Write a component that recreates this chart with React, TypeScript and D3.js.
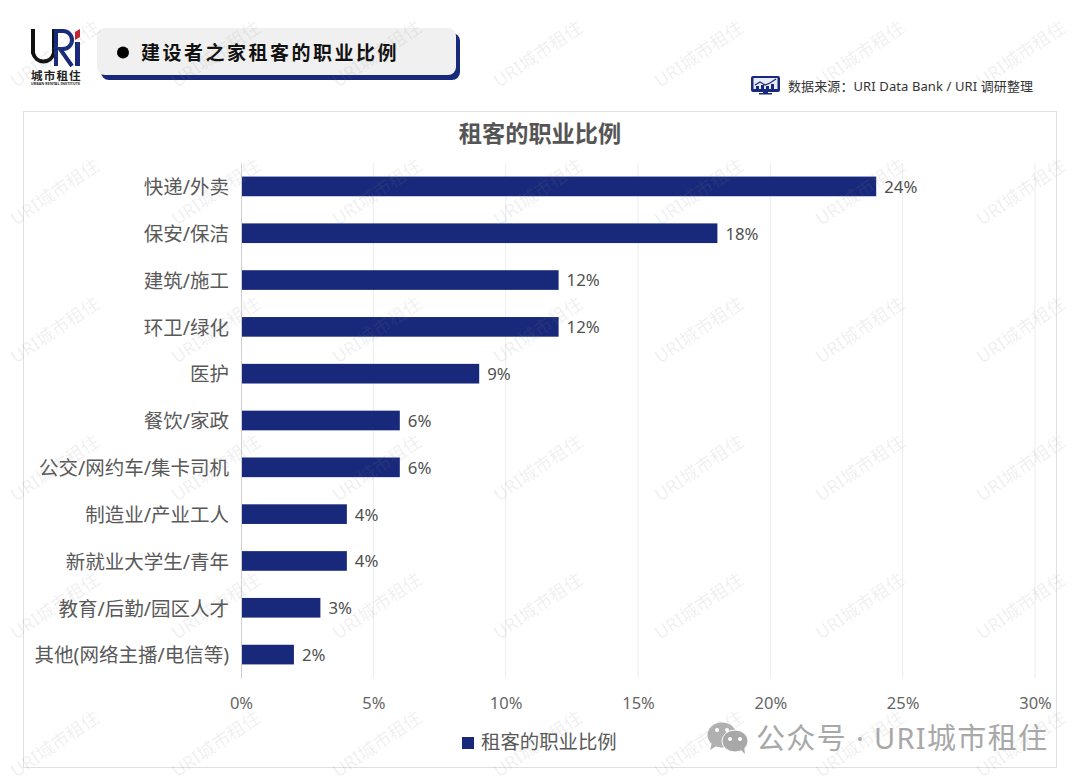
import * as d3 from "d3";
import { useEffect, useRef } from "react";

const categories = [
  "快递/外卖",
  "保安/保洁",
  "建筑/施工",
  "环卫/绿化",
  "医护",
  "餐饮/家政",
  "公交/网约车/集卡司机",
  "制造业/产业工人",
  "新就业大学生/青年",
  "教育/后勤/园区人才",
  "其他(网络主播/电信等)",
];
const shares = [24, 18, 12, 12, 9, 6, 6, 4, 4, 3, 2];
const xTicks = [0, 5, 10, 15, 20, 25, 30];

const seriesName = "租客的职业比例";
const headerTitle = "建设者之家租客的职业比例";
const sourceText = "数据来源\uFF1AURI Data Bank / URI 调研整理";
const watermarkText = "URI城市租住";
const wechatText = "公众号 · URI城市租住";

const FONT = '"Noto Sans", "Noto Sans CJK SC", sans-serif';
const NAVY = "#18297b";

export default function App() {
  const ref = useRef<SVGSVGElement>(null);

  useEffect(() => {
    const svg = d3.select(ref.current);
    svg.selectAll("*").remove();
    svg.attr("font-family", FONT);

    const x = d3.scaleLinear().domain([0, 30]).range([241, 1035]);
    const y = d3
      .scaleBand()
      .domain(categories)
      .range([163, 678])
      .paddingInner(0.58)
      .paddingOuter(0.29);

    // panel
    svg
      .append("rect")
      .attr("x", 23.5)
      .attr("y", 111.5)
      .attr("width", 1033)
      .attr("height", 656)
      .attr("fill", "#fff")
      .attr("stroke", "#e0e0e0");

    // logo
    const logo = svg.append("g").attr("fill", "none");
    logo
      .append("path")
      .attr("d", "M33,29V53a11,12 0 0 0 21,0V29")
      .attr("stroke", "#111")
      .attr("stroke-width", 4);
    logo
      .append("path")
      .attr("d", "M56,66V31H63a8.5,8.5 0 0 1 0,18H60L72,66")
      .attr("stroke", NAVY)
      .attr("stroke-width", 4);
    logo.append("path").attr("d", "M75,32L80,29V37L75,40Z").attr("fill", "#c8202c");
    logo.append("rect").attr("x", 75).attr("y", 42).attr("width", 5).attr("height", 24).attr("fill", NAVY);
    logo
      .append("text")
      .attr("x", 31)
      .attr("y", 79.5)
      .attr("font-size", 11.5)
      .attr("font-weight", 700)
      .attr("letter-spacing", 1.2)
      .attr("fill", "#222")
      .text("城市租住");
    logo
      .append("text")
      .attr("x", 31)
      .attr("y", 85)
      .attr("font-size", 3.6)
      .attr("font-weight", 700)
      .attr("textLength", 49)
      .attr("fill", "#222")
      .text("URBAN RENTAL INSTITUTE");

    // header box
    svg.append("rect").attr("x", 101).attr("y", 33).attr("width", 359).attr("height", 47).attr("rx", 8).attr("fill", NAVY);
    svg.append("rect").attr("x", 97).attr("y", 28).attr("width", 359).attr("height", 47).attr("rx", 8).attr("fill", "#f0f0f0");
    svg.append("circle").attr("cx", 123).attr("cy", 52.5).attr("r", 6).attr("fill", "#000");
    svg
      .append("text")
      .attr("x", 141)
      .attr("y", 60)
      .attr("font-size", 19)
      .attr("font-weight", 700)
      .attr("letter-spacing", 2.5)
      .attr("fill", "#111")
      .text(headerTitle);

    // source icon
    const icon = svg.append("g");
    icon.append("rect").attr("x", 751).attr("y", 76).attr("width", 29).attr("height", 16).attr("rx", 2).attr("fill", NAVY);
    icon.append("rect").attr("x", 753.5).attr("y", 78).attr("width", 24).attr("height", 11).attr("fill", "#e8ebf5");
    icon.append("rect").attr("x", 759).attr("y", 93).attr("width", 13).attr("height", 1.5).attr("fill", NAVY);
    icon.append("rect").attr("x", 763).attr("y", 91).attr("width", 5).attr("height", 2).attr("fill", NAVY);
    icon
      .append("path")
      .attr("d", d3.line()([[755, 85], [760, 82], [765, 85], [770, 83], [776, 79]]))
      .attr("fill", "none")
      .attr("stroke", NAVY)
      .attr("stroke-width", 1.2);
    icon
      .append("path")
      .attr("d", "M756,89V86H759V89ZM761,89V85H764V89ZM766,89V86H769V89ZM771,89V84H774V89Z")
      .attr("fill", NAVY);
    svg
      .append("text")
      .attr("x", 788)
      .attr("y", 91)
      .attr("font-size", 13)
      .attr("fill", "#333")
      .attr("textLength", 245)
      .text(sourceText);

    svg
      .append("text")
      .attr("x", 540)
      .attr("y", 141.5)
      .attr("text-anchor", "middle")
      .attr("font-size", 23.2)
      .attr("font-weight", 700)
      .attr("fill", "#555")
      .text(seriesName);

    // gridlines
    svg
      .append("g")
      .selectAll("line")
      .data(xTicks.slice(1))
      .enter()
      .append("line")
      .attr("x1", (d) => x(d))
      .attr("x2", (d) => x(d))
      .attr("y1", 163)
      .attr("y2", 678)
      .attr("stroke", "#ececec");

    // x axis labels
    const xAxis = svg
      .append("g")
      .attr("transform", "translate(0,678)")
      .call(
        d3
          .axisBottom(x)
          .tickValues(xTicks)
          .tickSize(0)
          .tickPadding(19)
          .tickFormat((d) => `${d}%`)
      );
    xAxis.select(".domain").remove();
    xAxis.selectAll("text").attr("font-family", FONT).attr("font-size", 16.5).attr("fill", "#666");

    // bars
    svg
      .append("g")
      .selectAll("rect")
      .data(shares)
      .enter()
      .append("rect")
      .attr("x", x(0))
      .attr("y", (_, i) => y(categories[i]))
      .attr("width", (d) => x(d) - x(0))
      .attr("height", y.bandwidth())
      .attr("fill", NAVY);

    // y axis
    const yAxis = svg
      .append("g")
      .attr("transform", "translate(241,0)")
      .call(d3.axisLeft(y).tickSize(0).tickPadding(12));
    yAxis.select(".domain").attr("stroke", "#cfcfcf");
    yAxis
      .selectAll("text")
      .attr("font-family", FONT)
      .attr("font-size", 19.5)
      .attr("fill", "#595959")
      .attr("dy", "0.4em");

    // value labels
    svg
      .append("g")
      .selectAll("text")
      .data(shares)
      .enter()
      .append("text")
      .attr("x", (d) => x(d) + 8)
      .attr("y", (_, i) => y(categories[i]) + y.bandwidth() / 2)
      .attr("dy", "0.38em")
      .attr("font-size", 16.8)
      .attr("fill", "#505050")
      .text((d) => `${d}%`);

    // legend
    svg.append("rect").attr("x", 462).attr("y", 737).attr("width", 12).attr("height", 12).attr("fill", NAVY);
    svg
      .append("text")
      .attr("x", 481)
      .attr("y", 749)
      .attr("font-size", 19.4)
      .attr("fill", "#595959")
      .text(seriesName);

    // watermarks
    const wm = svg.append("g");
    for (let col = 0; col < 7; col++) {
      for (let row = 0; row < 6; row++) {
        wm.append("text")
          .attr("transform", `translate(${16 + col * 161},${88 + row * 138}) rotate(-34)`)
          .attr("font-size", 18)
          .attr("fill", "#808080")
          .attr("fill-opacity", 0.13)
          .text(watermarkText);
      }
    }

    // wechat badge
    const wx = svg.append("g").attr("fill", "#b0b0b0");
    wx.append("ellipse").attr("cx", 722).attr("cy", 735).attr("rx", 14.5).attr("ry", 12.5);
    wx.append("path").attr("d", "M712,742L710,750L718,745Z");
    wx.append("ellipse")
      .attr("cx", 735)
      .attr("cy", 741)
      .attr("rx", 13)
      .attr("ry", 11)
      .attr("fill", "#a8a8a8")
      .attr("stroke", "#fff")
      .attr("stroke-width", 1);
    wx.append("path").attr("d", "M740,749L745,754L744,746Z").attr("fill", "#a8a8a8");
    [[717, 730], [727, 730], [730, 739], [740, 739]].forEach(([cx, cy]) => {
      wx.append("circle").attr("cx", cx).attr("cy", cy).attr("r", 2).attr("fill", "#fff");
    });
    svg
      .append("text")
      .attr("x", 756)
      .attr("y", 749)
      .attr("font-size", 29)
      .attr("fill", "#a8a8a8")
      .attr("textLength", 291)
      .text(wechatText);
  }, []);

  return (
    <svg
      ref={ref}
      width={1080}
      height={781}
      style={{ position: "absolute", left: 0, top: 0, display: "block", background: "#fff" }}
    />
  );
}
